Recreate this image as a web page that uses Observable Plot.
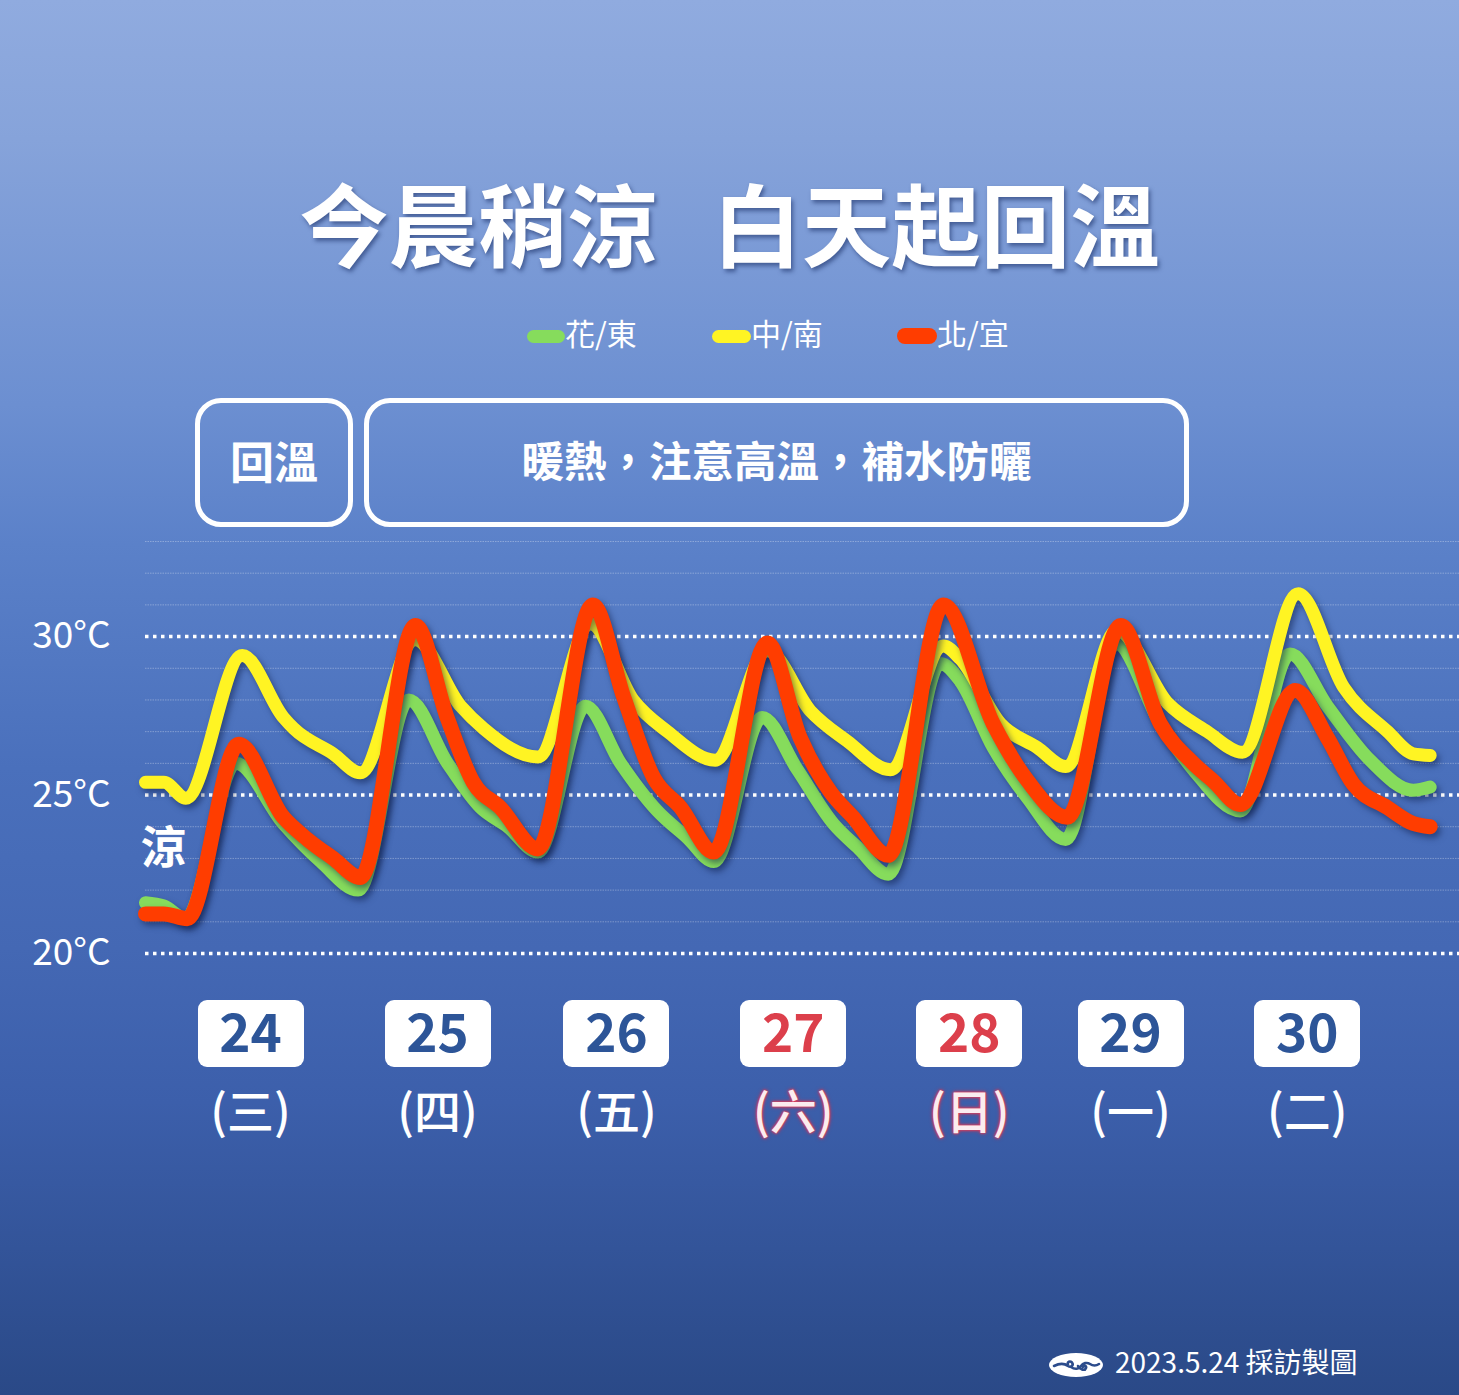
<!DOCTYPE html>
<html><head><meta charset="utf-8">
<script src="https://cdn.jsdelivr.net/npm/d3@7"></script>
<script src="https://cdn.jsdelivr.net/npm/@observablehq/plot@0.6"></script>
<style>
html,body{margin:0;padding:0;}
body{width:1459px;height:1395px;overflow:hidden;}
#page{position:relative;width:1459px;height:1395px;overflow:hidden;
 background:linear-gradient(180deg,#90abdf 0%,#86a3da 10%,#6c8fd1 29%,#5b81c9 39%,#4a70bc 55%,#4468b4 68%,#3c5fab 79%,#2a4987 100%);
 font-family:"Noto Sans CJK TC","Noto Sans",sans-serif;color:#fff;}
.abs{position:absolute;}
#chart{position:absolute;left:0;top:0;}
#title{left:0;width:1459px;top:177px;text-align:center;font-size:89.5px;font-weight:700;line-height:1;white-space:nowrap;
 text-shadow:2px 3px 4px rgba(20,40,95,0.55);}
#title .gap{display:inline-block;width:55px;}
.legitem{top:317px;height:36px;font-size:30px;line-height:1;white-space:nowrap;}
.pill{position:absolute;border-radius:8px;}
.box{position:absolute;top:398px;height:129px;box-sizing:border-box;border:5px solid #fff;border-radius:26px;
 display:flex;align-items:center;justify-content:center;font-weight:700;line-height:1;padding-bottom:6px;white-space:nowrap;}
.datebox{position:absolute;top:1000px;width:106px;height:67px;background:#fff;border-radius:9px;display:flex;align-items:center;justify-content:center;
 font-size:53px;font-weight:700;line-height:1;padding-bottom:8px;box-sizing:border-box;color:#2d5598;}
.datebox.we{color:#dc3f4b;}
.wd{position:absolute;top:1085px;width:120px;text-align:center;font-size:47px;font-weight:500;line-height:1;color:#fff;}
.wd.we{color:#fbecef;text-shadow:0 0 2px #e2405c,0 0 3px #e2405c,0 0 4px #c83050;}
#cool{left:141px;top:822px;font-size:45px;font-weight:700;line-height:1;}
#footer{left:1115px;top:1347px;font-size:28px;line-height:1;white-space:nowrap;}
#logo{left:1048px;top:1351px;}
</style></head>
<body><div id="page"></div>
<script>
// ---- data (hours since 5/24 00:00, °C) ----
const seriesNames = ["花/東", "中/南", "北/宜"];
const hoursGreen = [0,2.5,5.5,12.3,18.8,23.9,29.0,35.9,41.2,45.7,49.4,53.5,60.0,64.8,69.8,73.9,77.5,84.1,88.9,93.8,97.1,101.3,108.4,111.1,115.6,120.3,125.5,132.3,138.4,142.9,149.3,156.1,161.2,167.0,172.9,175.2];
const tempsGreen = [21.6,21.5,21.1,26.0,24.1,22.9,22.0,28.0,26.0,24.6,24.0,23.2,27.8,26.0,24.5,23.65,22.9,27.45,25.8,24.1,23.35,22.5,29.15,28.6,26.5,24.9,23.6,29.8,27.25,25.8,24.5,29.45,27.8,26.1,25.15,25.25];
const hoursYellow = [0,2.5,5.5,13.2,18.8,20.2,25.6,29.3,36.8,43.0,46.1,53.5,60.7,66.5,71.2,77.7,84.8,90.7,95.7,101.6,108.8,111.1,116.6,121.6,125.5,132.5,139.4,144.8,149.6,157.2,163.4,169.4,172.9,175.2];
const tempsYellow = [25.4,25.4,24.9,29.4,27.45,27.1,26.3,25.7,29.9,27.8,27.1,26.2,30.4,28.0,27.0,26.1,29.55,27.65,26.7,25.8,29.7,29.3,27.25,26.5,25.9,30.2,27.9,27.0,26.35,31.35,28.4,27.0,26.3,26.25];
const hoursRed = [0,2.5,5.7,12.7,18.8,22.1,25.6,29.3,36.8,41.2,44.7,48.4,53.5,61.0,65.2,69.3,73.0,77.5,84.8,89.3,93.4,96.5,101.3,108.8,115.6,120.3,125.7,133.0,138.4,142.9,145.6,149.3,156.8,161.2,164.7,169.4,172.9,175.2];
const tempsRed = [21.25,21.25,21.1,26.6,24.3,23.6,23.0,22.4,30.35,27.4,25.4,24.6,23.3,31.0,28.1,25.55,24.6,23.2,29.8,26.8,25.1,24.3,23.1,31.0,27.25,25.45,24.3,30.35,27.25,26.0,25.45,24.7,28.3,26.8,25.35,24.6,24.1,24.0];
const seriesColors = ["#86dc5c", "#fff423", "#ff3d00"];
const majorTicks = [20, 25, 30];
const minorTicks = [21,22,23,24,26,27,28,29,31,32,33];
const dayNumbers = ["24","25","26","27","28","29","30"];
const weekdays = ["(三)","(四)","(五)","(六)","(日)","(一)","(二)"];
const weekendFlags = [false,false,false,true,true,false,false];
const dayLabelHours = [14.4,39.9,64.3,88.4,112.4,134.4,158.5];
const titleParts = ["今晨稍涼", "白天起回溫"];
const boxTexts = ["回溫", "暖熱，注意高溫，補水防曬"];
const coolText = "涼";
const footerText = "2023.5.24 採訪製圖";

const toRows = (name, hs, ts) => hs.map((h, i) => ({series: name, h, t: ts[i]}));
const green = toRows(seriesNames[0], hoursGreen, tempsGreen);
const yellow = toRows(seriesNames[1], hoursYellow, tempsYellow);
const red = toRows(seriesNames[2], hoursRed, tempsRed);

const page = document.getElementById("page");

const lineOpts = (color, w) => ({x: "h", y: "t", stroke: color, strokeWidth: w, curve: "monotone-x", strokeLinecap: "round", strokeLinejoin: "round"});

const plot = Plot.plot({
  width: 1459, height: 1395,
  marginLeft: 145, marginRight: 0, marginTop: 541, marginBottom: 442,
  x: {domain: [0, 179.2], axis: null},
  y: {domain: [20, 33], label: null},
  style: {background: "transparent", color: "#fff", fontFamily: "'Noto Sans CJK TC','Noto Sans',sans-serif", overflow: "visible"},
  marks: [
    Plot.ruleY(minorTicks, {stroke: "#fff", strokeOpacity: 0.3, strokeWidth: 1, strokeDasharray: "1.5,1"}),
    Plot.ruleY(majorTicks, {stroke: "#fff", strokeWidth: 3.5, strokeDasharray: "3.5,4.5"}),
    Plot.axisY({ticks: majorTicks, tickFormat: d => `${d}°C`, tickSize: 0, tickPadding: 35, fontSize: 37, fill: "#fff", label: null}),
    Plot.line(green, lineOpts(seriesColors[0], 13)),
    Plot.line(yellow, lineOpts(seriesColors[1], 13)),
    Plot.line(red, lineOpts(seriesColors[2], 15))
  ]
});
plot.id = "chart";
plot.querySelectorAll('g[aria-label="line"]').forEach(g => g.style.filter = "drop-shadow(3px 4px 3px rgba(10,25,70,0.5))");
page.appendChild(plot);

function el(tag, cls, text, css) {
  const e = document.createElement(tag);
  if (cls) e.className = cls;
  if (text != null) e.textContent = text;
  if (css) Object.assign(e.style, css);
  page.appendChild(e);
  return e;
}

// title
const t = el("div", "abs", null); t.id = "title";
t.innerHTML = `${titleParts[0]}<span class="gap"></span>${titleParts[1]}`;

// legend
const legendPills = [[527, 565], [712, 751], [897, 937]];
const pillH = [13, 13, 16];
seriesNames.forEach((n, i) => {
  const [l, r] = legendPills[i];
  el("div", "pill", null, {left: l + "px", width: (r - l) + "px", top: (336 - pillH[i] / 2) + "px", height: pillH[i] + "px", background: seriesColors[i]});
  el("div", "abs legitem", n, {left: r + "px"});
});

// boxes
el("div", "box", boxTexts[0], {left: "195px", width: "158px", fontSize: "44px"});
el("div", "box", boxTexts[1], {left: "364px", width: "825px", fontSize: "42.5px"});

// 涼
el("div", "abs", coolText).id = "cool";

// date labels via x scale
const xs = plot.scale("x");
dayNumbers.forEach((d, i) => {
  const cx = xs.apply(dayLabelHours[i]);
  el("div", "datebox" + (weekendFlags[i] ? " we" : ""), d, {left: (cx - 53) + "px"});
  el("div", "wd" + (weekendFlags[i] ? " we" : ""), weekdays[i], {left: (cx - 60) + "px"});
});

// footer
el("div", "abs", footerText).id = "footer";
const logo = document.createElementNS("http://www.w3.org/2000/svg", "svg");
logo.setAttribute("width", "56"); logo.setAttribute("height", "28");
logo.setAttribute("class", "abs"); logo.id = "logo";
logo.innerHTML = `<ellipse cx="28" cy="14" rx="27" ry="12" fill="#fff"/>
<path d="M6 15 C12 12,16 12,20 15 C23 17,26 14,24 11.5 C22 9.5,19 11,20 13 M23 16 C27 19,31 18,33 15 C35 12,39 11,42 13 C45 15,48 15,51 13 M30 15 C32 19,37 20,38 17 C39 15,36 14,35 16" fill="none" stroke="#2c4c8c" stroke-width="2.6" stroke-linecap="round"/>`;
page.appendChild(logo);
</script>
</body></html>
